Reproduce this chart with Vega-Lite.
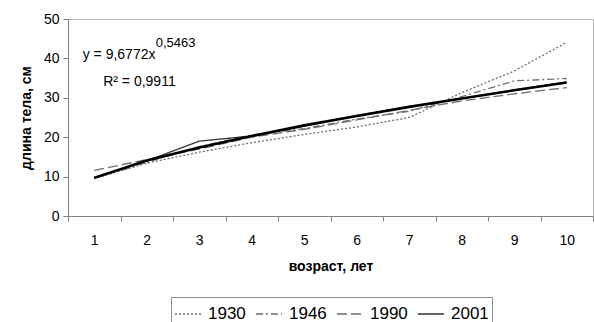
{
  "$schema": "https://vega.github.io/schema/vega-lite/v6.json",
  "autosize": {"type": "none"},
  "width": 525,
  "height": 197,
  "padding": {"left": 68, "top": 19, "right": 1, "bottom": 106},
  "background": "white",
  "config": {
    "font": "Liberation Sans",
    "view": {"stroke": "#b4b4b4", "strokeWidth": 1},
    "axis": {
      "domainColor": "#808080",
      "tickColor": "#808080",
      "labelColor": "#000",
      "titleColor": "#000",
      "labelFontSize": 14,
      "titleFontSize": 14,
      "titleFontWeight": "bold",
      "grid": false
    },
    "axisY": {"values": [0,10,20,30,40,50], "labelOverlap": false, "tickSize": 5, "labelPadding": 4, "titlePadding": 10},
    "legend": {
      "orient": "none", "legendX": 103, "legendY": 278, "direction": "horizontal",
      "symbolType": "stroke", "symbolSize": 676, "symbolStrokeWidth": 1.3,
      "labelFontSize": 17, "labelOffset": 6, "columnPadding": 7,
      "strokeColor": "#909090", "padding": 3, "labelColor": "#000"
    }
  },
  "datasets": {
    "series": [
      {"age": "1", "year": "1930", "len": 9.5},
      {"age": "2", "year": "1930", "len": 13.4},
      {"age": "3", "year": "1930", "len": 16.2},
      {"age": "4", "year": "1930", "len": 18.6},
      {"age": "5", "year": "1930", "len": 20.7},
      {"age": "6", "year": "1930", "len": 22.6},
      {"age": "7", "year": "1930", "len": 25.0},
      {"age": "8", "year": "1930", "len": 31.3},
      {"age": "9", "year": "1930", "len": 36.8},
      {"age": "10", "year": "1930", "len": 44.1},
      {"age": "1", "year": "1946", "len": 9.6},
      {"age": "2", "year": "1946", "len": 13.6},
      {"age": "3", "year": "1946", "len": 17.6},
      {"age": "4", "year": "1946", "len": 20.6},
      {"age": "5", "year": "1946", "len": 22.2},
      {"age": "6", "year": "1946", "len": 24.6},
      {"age": "7", "year": "1946", "len": 26.6},
      {"age": "8", "year": "1946", "len": 30.3},
      {"age": "9", "year": "1946", "len": 34.3},
      {"age": "10", "year": "1946", "len": 34.9},
      {"age": "1", "year": "1990", "len": 11.6},
      {"age": "2", "year": "1990", "len": 14.3},
      {"age": "3", "year": "1990", "len": 17.0},
      {"age": "4", "year": "1990", "len": 20.0},
      {"age": "5", "year": "1990", "len": 22.0},
      {"age": "6", "year": "1990", "len": 24.4},
      {"age": "7", "year": "1990", "len": 26.8},
      {"age": "8", "year": "1990", "len": 29.2},
      {"age": "9", "year": "1990", "len": 31.0},
      {"age": "10", "year": "1990", "len": 32.6},
      {"age": "1", "year": "2001", "len": 9.8},
      {"age": "2", "year": "2001", "len": 14.0},
      {"age": "3", "year": "2001", "len": 19.0},
      {"age": "4", "year": "2001", "len": 20.3},
      {"age": "5", "year": "2001", "len": 22.8},
      {"age": "6", "year": "2001", "len": 25.5},
      {"age": "7", "year": "2001", "len": 27.8},
      {"age": "8", "year": "2001", "len": 29.8},
      {"age": "9", "year": "2001", "len": 32.0},
      {"age": "10", "year": "2001", "len": 34.0}
    ],
    "trend": [
      {"age": "1", "len": 9.68},
      {"age": "2", "len": 14.1},
      {"age": "3", "len": 17.4},
      {"age": "4", "len": 20.3},
      {"age": "5", "len": 23.0},
      {"age": "6", "len": 25.4},
      {"age": "7", "len": 27.7},
      {"age": "8", "len": 29.8},
      {"age": "9", "len": 31.9},
      {"age": "10", "len": 33.9}
    ],
    "notes": [
      {"x": 0.78, "y": 39.8, "label": "y = 9,6772x"},
      {"x": 1.17, "y": 33.0, "label": "R² = 0,9911"}
    ],
    "sup": [
      {"x": 2.17, "y": 42.8, "label": "0,5463"}
    ]
  },
  "layer": [
    {
      "layer": [
        {
          "data": {"name": "series"},
          "mark": {"type": "line", "strokeWidth": 1.3},
          "encoding": {
            "x": {
              "field": "age", "type": "ordinal", "sort": ["1","2","3","4","5","6","7","8","9","10"],
              "scale": {"type": "band", "paddingInner": 0, "paddingOuter": 0},
              "axis": {"title": "возраст, лет", "labelAngle": 0, "tickBand": "extent", "tickSize": 5, "labelPadding": 12, "titlePadding": 12}
            },
            "y": {
              "field": "len", "type": "quantitative",
              "scale": {"domain": [0, 50], "nice": false},
              "axis": {"title": "длина тела, см", "values": [0,10,20,30,40,50]}
            },
            "strokeDash": {
              "field": "year", "type": "nominal",
              "scale": {"domain": ["1930","1946","1990","2001"], "range": [[2,2],[7,3,2,3],[10,4],[1,0]]},
              "legend": {"title": null}
            },
            "color": {
              "field": "year", "type": "nominal",
              "scale": {"domain": ["1930","1946","1990","2001"], "range": ["#6e6e6e","#6e6e6e","#6e6e6e","#333333"]},
              "legend": {"title": null}
            }
          }
        },
        {
          "data": {"name": "trend"},
          "mark": {"type": "line", "strokeWidth": 2.6, "color": "#000"},
          "encoding": {
            "x": {"field": "age", "type": "ordinal", "sort": ["1","2","3","4","5","6","7","8","9","10"]},
            "y": {"field": "len", "type": "quantitative", "axis": {"title": "длина тела, см", "values": [0,10,20,30,40,50]}}
          }
        }
      ]
    },
    {
      "layer": [
        {
          "data": {"name": "notes"},
          "mark": {"type": "text", "align": "left", "baseline": "alphabetic", "color": "#000", "fontSize": 14},
          "encoding": {
            "x": {"field": "x", "type": "quantitative", "scale": {"domain": [0.5, 10.5], "nice": false, "zero": false}, "axis": null},
            "y": {"field": "y", "type": "quantitative", "axis": {"title": "длина тела, см", "values": [0,10,20,30,40,50]}},
            "text": {"field": "label"}
          }
        },
        {
          "data": {"name": "sup"},
          "mark": {"type": "text", "align": "left", "baseline": "alphabetic", "color": "#000", "fontSize": 13},
          "encoding": {
            "x": {"field": "x", "type": "quantitative", "axis": null},
            "y": {"field": "y", "type": "quantitative", "axis": {"title": "длина тела, см", "values": [0,10,20,30,40,50]}},
            "text": {"field": "label"}
          }
        }
      ]
    }
  ],
  "resolve": {"scale": {"x": "independent"}}
}
